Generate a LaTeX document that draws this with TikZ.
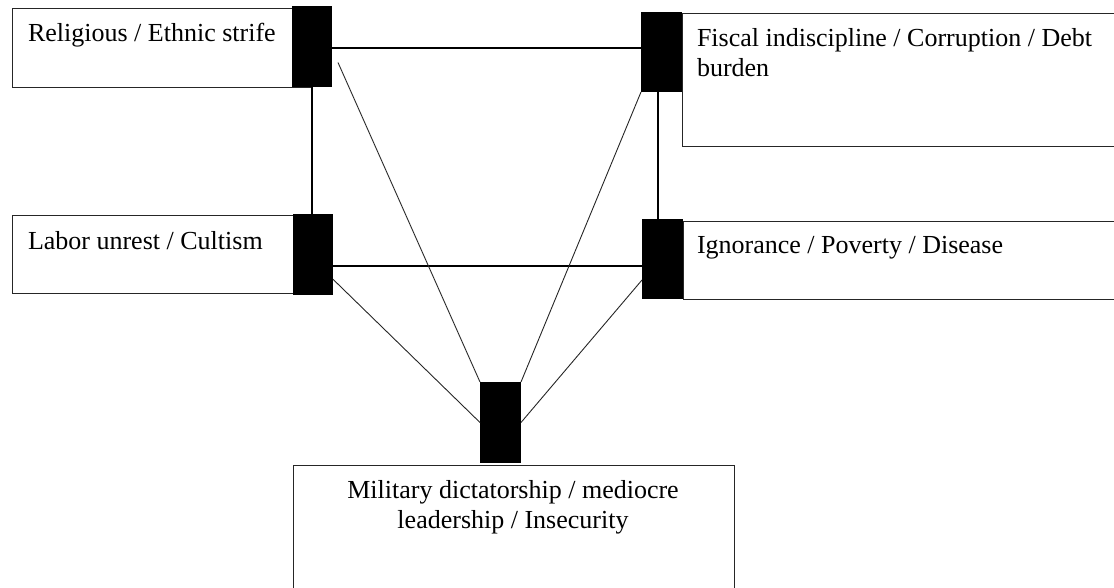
\documentclass[tikz,border=0pt]{standalone}
\usepackage{fontspec}
\setmainfont{Liberation Serif}
\usetikzlibrary{calc}
\begin{document}
\begin{tikzpicture}[x=1pt,y=-1pt,
  box/.style={draw=black!85,line width=0.9pt,fill=white,anchor=north west,inner sep=0pt,outer sep=0pt},
  blk/.style={fill=black,draw=none,anchor=north west,inner sep=0pt,outer sep=0pt},
  lbl/.style={font=\fontsize{26}{30}\selectfont,inner sep=0pt,outer sep=0pt},
  thick link/.style={line width=1.7pt,black},
  thin link/.style={line width=0.9pt,black!85}]
\useasboundingbox (0,0) rectangle (1114,588);
% boxes
\node[box,minimum width=300pt,minimum height=79pt] (r) at (12,8) {};
\node[box,minimum width=440pt,minimum height=133pt] (f) at (682,13) {};
\node[box,minimum width=295pt,minimum height=78pt] (l) at (12,215) {};
\node[box,minimum width=440pt,minimum height=78pt] (g) at (683,221) {};
\node[box,minimum width=441pt,minimum height=140pt] (m) at (293,465) {};
% blocks
\node[blk,minimum width=40pt,minimum height=81pt] (b1) at (292,6) {};
\node[blk,minimum width=41pt,minimum height=80pt] (b2) at (641,12) {};
\node[blk,minimum width=40pt,minimum height=80.5pt] (b3) at (293,214) {};
\node[blk,minimum width=41pt,minimum height=80pt] (b4) at (642,219) {};
\node[blk,minimum width=41pt,minimum height=81pt] (b5) at (480,382) {};
% labels
\node[lbl,anchor=base west] (tr) at (28,42) {Religious / Ethnic strife};
\node[lbl,anchor=north west,align=left] (tf) at (697,28) {Fiscal indiscipline / Corruption / Debt\\burden};
\node[lbl,anchor=base west] (tl) at (28,250) {Labor unrest / Cultism};
\node[lbl,anchor=base west] (tg) at (697,254) {Ignorance / Poverty / Disease};
\node[lbl,anchor=north,align=center] (tm) at (513,480) {Military dictatorship / mediocre\\leadership / Insecurity};
% connector end points
\coordinate (h1) at ($(b1.east)+(0,1.5)$);
\coordinate (h2) at ($(b3.east)+(0,12)$);
\coordinate (v2) at ($(b2.south west)+(17,0)$);
\coordinate (d1) at ($(b1.east)+(6,16)$);
\coordinate (d3) at ($(b3.east)+(0,25)$);
\coordinate (d4) at ($(b4.west)+(0,21)$);
% thick connectors
\draw[thick link] (h1) -- (h1 -| b2.west);
\draw[thick link] (h2) -- (h2 -| b4.west);
\draw[thick link] (b1.south) -- (b1.south |- b3.north);
\draw[thick link] (v2) -- (v2 |- b4.north);
% thin connectors
\draw[thin link] (d1) -- (b5.north west);
\draw[thin link] (b2.south west) -- (b5.north east);
\draw[thin link] (d3) -- (b5.west);
\draw[thin link] (d4) -- (b5.east);
\end{tikzpicture}
\end{document}
